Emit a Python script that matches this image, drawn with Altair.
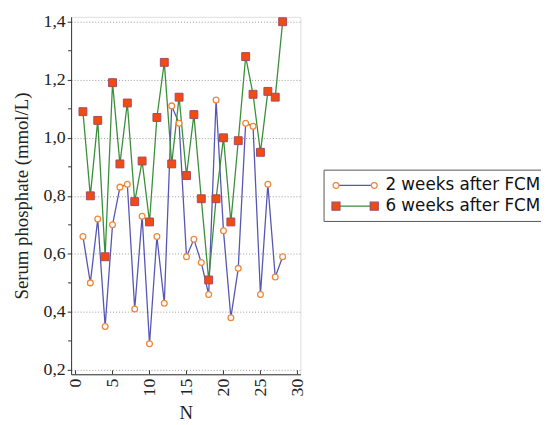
import math
import altair as alt
import pandas as pd

# ---- data ----
N = [1, 2, 3, 4, 5, 6, 7, 8, 9, 10, 11, 12, 13, 14,
     15, 16, 17, 18, 19, 20, 21, 22, 23, 24, 25, 26, 27, 28]
week2 = [0.66, 0.50, 0.72, 0.35, 0.70, 0.83, 0.84, 0.41, 0.73, 0.29, 0.66, 0.43, 1.11, 1.05,
         0.59, 0.65, 0.57, 0.46, 1.13, 0.68, 0.38, 0.55, 1.05, 1.04, 0.46, 0.84, 0.52, 0.59]
week6 = [1.09, 0.80, 1.06, 0.59, 1.19, 0.91, 1.12, 0.78, 0.92, 0.71, 1.07, 1.26, 0.91, 1.14,
         0.87, 1.08, 0.79, 0.51, 0.79, 1.00, 0.71, 0.99, 1.28, 1.15, 0.95, 1.16, 1.14, 1.40]
series_names = ["2 weeks after FCM", "6 weeks after FCM"]
series_codes = ["2w", "6w"]
y_ticks = [0.2, 0.4, 0.6, 0.8, 1.0, 1.2, 1.4]
y_minor = [0.3, 0.5, 0.7, 0.9, 1.1, 1.3]
x_ticks = [0, 5, 10, 15, 20, 25, 30]

long = pd.DataFrame({
    "N": N + N,
    "value": week2 + week6,
    "series": [series_names[0]] * len(N) + [series_names[1]] * len(N),
    "code": [series_codes[0]] * len(N) + [series_codes[1]] * len(N),
})
minor_df = pd.DataFrame({"value": y_minor})
xtick_df = pd.DataFrame({"N": x_ticks})

# ---- style ----
BLUE = "#5656b4"
GREEN = "#3a8f3a"
CIRC_STROKE = "#f0883a"
SQ_FILL = "#f24b0f"
SQ_STROKE = "#a4486a"
AXIS_COL = "#333333"
SERIF = "Liberation Serif"
SANS = "DejaVu Sans"

W, H = 232.5, 362.5

x_axis = alt.Axis(values=x_ticks, labelAngle=270, labelAlign="right", labelBaseline="middle",
                  ticks=False, labelPadding=4, grid=False, title="N",
                  labelFont=SERIF, labelFontSize=18, labelColor="#222",
                  titleFont=SERIF, titleFontSize=19, titleFontWeight="normal",
                  titleColor="#222", titlePadding=8, domainColor=AXIS_COL)
y_axis = alt.Axis(values=y_ticks,
                  labelExpr="replace(format(datum.value, '.1f'), '.', ',')",
                  tickSize=4, tickColor=AXIS_COL, labelPadding=2, grid=True,
                  gridDash=[1, 2], gridColor="#999999",
                  title="Serum phosphate (mmol/L)",
                  labelFont=SERIF, labelFontSize=18, labelColor="#222",
                  titleFont=SERIF, titleFontSize=19, titleFontWeight="normal",
                  titleColor="#222", titlePadding=12, domainColor=AXIS_COL)

xs = alt.Scale(domain=[-0.6, 30.4], nice=False, zero=False)
ys = alt.Scale(domain=[0.185, 1.417], nice=False, zero=False)
X = alt.X("N:Q", scale=xs, axis=x_axis)
Y = alt.Y("value:Q", scale=ys, axis=y_axis)

# legend symbol paths: unit = 8 px (symbolSize 256), drawn shifted right of the symbol slot
U = 8.0
DX = 2.0
C = 19.4 / U
R = 3.0 / U
def poly(cx, r, n=14):
    pts = [(cx + r * math.cos(2 * math.pi * k / n), r * math.sin(2 * math.pi * k / n)) for k in range(n)]
    return "M" + "L".join(f"{a:.4f},{b:.4f}" for a, b in pts) + "Z"
circ_path = poly(DX - C, R) + " " + poly(DX + C, R)
S = 4.0 / U
sq_path = (f"M{DX-C-S:.4f},{-S}H{DX-C+S:.4f}V{S}H{DX-C-S:.4f}Z "
           f"M{DX+C-S:.4f},{-S}H{DX+C+S:.4f}V{S}H{DX+C-S:.4f}Z")
line_path = f"M{DX-C+R:.4f},0H{DX+C-R:.4f}"

common_leg = dict(orient="none", legendX=256, legendY=155, title=None, symbolSize=256,
                  symbolStrokeWidth=1.3, labelFont=SANS, labelFontSize=17,
                  labelOffset=37.7, padding=7, rowPadding=4)
line_legend = alt.Legend(symbolType=line_path, labelColor="#111", strokeColor="#555",
                         fillColor="white", **common_leg)
marker_legend = alt.Legend(labelColor="transparent",
                           labelExpr="datum.value == '2w' ? '2 weeks after FCM' : '6 weeks after FCM'",
                           **common_leg)

base = alt.Chart(long)

minor = alt.Chart(minor_df).mark_rule(color=AXIS_COL, strokeWidth=1).encode(
    y=Y, x=alt.value(-3), x2=alt.value(0))
xticks = alt.Chart(xtick_df).mark_rule(color=AXIS_COL, strokeWidth=1).encode(
    x=X, y=alt.value(H), y2=alt.value(H - 4))

lines = base.mark_line(strokeWidth=1.3).encode(
    x=X, y=Y,
    color=alt.Color("series:N", scale=alt.Scale(domain=series_names, range=[BLUE, GREEN]),
                    legend=line_legend))

circles = base.transform_filter(alt.datum.code == "2w").mark_point(
    shape="circle", filled=True, fill="white", stroke=CIRC_STROKE, strokeWidth=1.3,
    size=34, opacity=1).encode(x=X, y=Y)
squares = base.transform_filter(alt.datum.code == "6w").mark_point(
    shape="square", filled=True, fill=SQ_FILL, stroke=SQ_STROKE, strokeWidth=1,
    size=64, opacity=1).encode(x=X, y=Y)

legend_markers = base.transform_filter("false").mark_point(
    filled=True, opacity=1, size=256, strokeWidth=1.3).encode(
    shape=alt.Shape("code:N", scale=alt.Scale(domain=series_codes, range=[circ_path, sq_path]),
                    legend=marker_legend),
    fill=alt.Fill("code:N", scale=alt.Scale(domain=series_codes, range=["white", SQ_FILL]),
                  legend=marker_legend),
    stroke=alt.Stroke("code:N", scale=alt.Scale(domain=series_codes, range=[CIRC_STROKE, SQ_STROKE]),
                      legend=marker_legend),
)

chart = alt.layer(minor, xticks, lines, circles, squares, legend_markers).properties(
    width=W, height=H,
    padding={"left": 64, "top": 6, "right": 244, "bottom": 48},
    autosize="none",
).configure_view(strokeWidth=0).configure(background="white")

chart.save("out.html", embed_options={"renderer": "svg", "actions": False})
